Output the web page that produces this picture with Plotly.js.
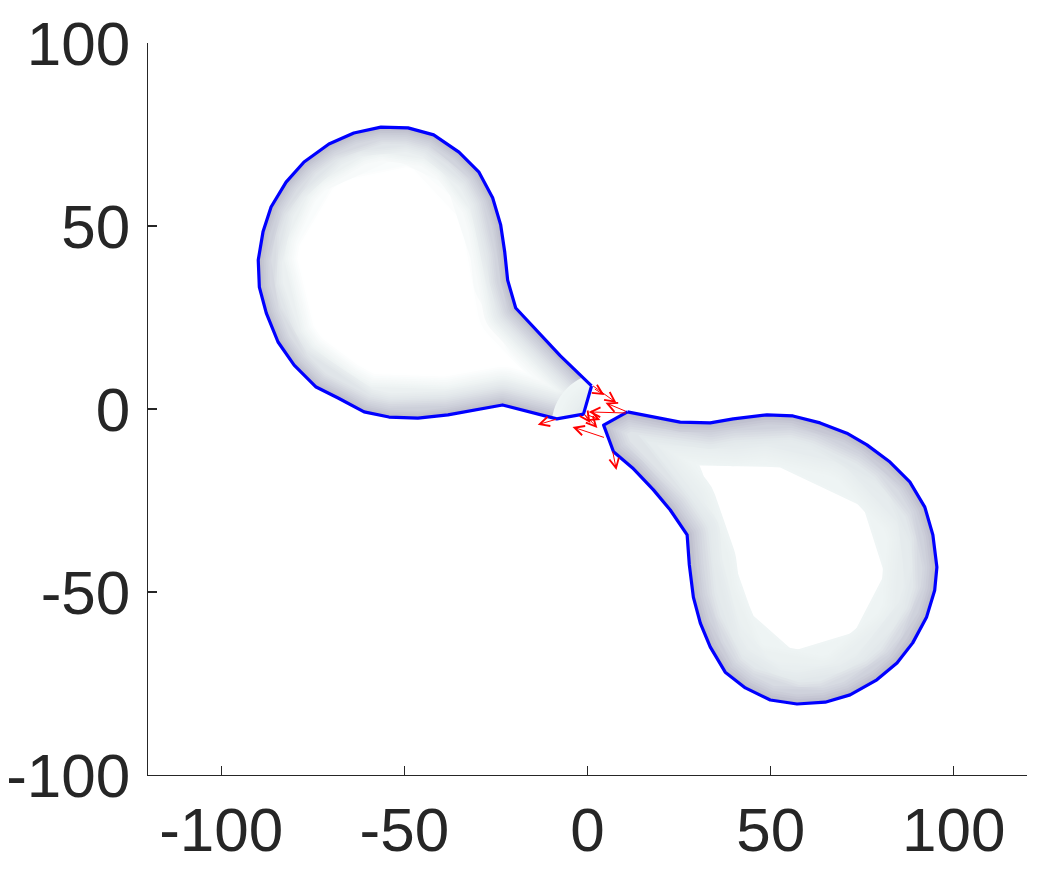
<!DOCTYPE html>
<html>
<head>
<meta charset="utf-8">
<script src="https://cdn.plot.ly/plotly-3.0.1.min.js"></script>
<style>html,body{margin:0;padding:0;background:#fff;}#chart{width:1047px;height:874px;}</style>
</head>
<body>
<div id="chart"></div>
<script>
// Axis settings
const xRange = [-120, 120];
const yRange = [-100, 100];
const xTicks = [-100, -50, 0, 50, 100];
const yTicks = [-100, -50, 0, 50, 100];

// Left blob boundary (closed polygon)
const leftX = [1.1, -1.1, -8.4, -23.2, -38.1, -46.3, -54.2, -61.0, -68.1, -74.1, -80.1, -84.5, -87.7, -89.6, -89.9, -88.6, -86.4, -82.3, -77.4, -70.6, -63.8, -56.4, -49.0, -42.0, -35.1, -29.7, -25.9, -23.7, -22.6, -21.8, -19.6, -13.6, -7.4];
const leftY = [6.3, -1.4, -2.7, 1.1, -1.6, -2.5, -2.2, -0.8, 3.0, 6.0, 12.0, 18.3, 26.2, 33.3, 40.7, 48.4, 55.2, 62.0, 67.5, 72.4, 75.4, 77.0, 76.8, 74.9, 70.2, 64.8, 57.7, 50.3, 42.9, 35.2, 27.6, 21.3, 14.5];

// Right blob boundary (closed polygon)
const rightX = [10.9, 25.3, 33.5, 39.8, 49.0, 56.1, 63.5, 70.8, 76.3, 82.6, 88.0, 92.1, 94.3, 95.4, 94.8, 92.6, 88.8, 84.5, 79.0, 71.7, 64.9, 57.2, 49.9, 43.1, 37.6, 33.5, 30.8, 28.9, 27.8, 27.2, 22.6, 18.0, 12.3, 7.1, 4.4];
const rightY = [-0.8, -3.6, -3.8, -2.7, -1.6, -1.9, -3.8, -6.6, -9.8, -14.5, -19.9, -26.8, -34.4, -43.2, -49.5, -56.8, -63.9, -69.4, -74.0, -78.1, -80.1, -80.6, -79.5, -76.2, -71.9, -65.0, -58.5, -51.4, -42.6, -34.4, -27.6, -22.1, -16.1, -11.7, -4.4];

// Quiver arrows: tail position and vector
const quiverX = [1.1, 1.6, 10.9, 10.9, -8.2, 4.9, -1.1, -1.1, -0.5, 6.8];
const quiverY = [6.6, 5.7, -0.8, -1.1, -2.7, -7.9, -1.1, -1.1, -1.4, -11.2];
const quiverU = [6.8, 3.0, -6.0, -10.6, -5.4, -9.0, 3.8, 1.9, 4.0, 1.1];
const quiverV = [-4.9, -1.9, 2.5, 0.3, -1.6, 3.0, -4.1, -2.7, -1.6, -5.5];

function closeRing(a) { return a.concat([a[0]]); }

function mix(stops, s) {
  for (let i = 0; i < stops.length - 1; i++) {
    const a = stops[i], b = stops[i + 1];
    if (s >= a[0] && s <= b[0]) {
      const f = (s - a[0]) / (b[0] - a[0]);
      const c = [0, 1, 2].map(j => Math.round(a[1][j] + f * (b[1][j] - a[1][j])));
      return 'rgb(' + c.join(',') + ')';
    }
  }
  const l = stops[stops.length - 1][1];
  return 'rgb(' + l.join(',') + ')';
}

const leftProfile = [[0, [182, 182, 198]], [0.2, [203, 205, 216]], [0.45, [224, 229, 233]], [0.7, [239, 244, 244]], [1, [254, 255, 255]]];
const rightProfile = [[0, [182, 182, 198]], [0.2, [205, 207, 218]], [0.45, [226, 232, 235]], [0.75, [235, 241, 241]], [1, [239, 245, 245]]];

const traces = [];
function shade(xs, ys, bandPx, profile) {
  const N = 22;
  for (let k = 0; k < N; k++) {
    const s = 1 - k / N;
    traces.push({
      x: closeRing(xs), y: closeRing(ys), type: 'scatter', mode: 'lines',
      line: {color: mix(profile, s), width: 2 * bandPx * s},
      hoverinfo: 'skip', showlegend: false
    });
  }
}
shade(leftX, leftY, 40, leftProfile);
shade(rightX, rightY, 52, rightProfile);

// White mask outside the blobs (plot rectangle with the blobs as holes)
const maskX = [xRange[0], xRange[1], xRange[1], xRange[0], xRange[0], null].concat(closeRing(leftX), [null], closeRing(rightX));
const maskY = [yRange[0], yRange[0], yRange[1], yRange[1], yRange[0], null].concat(closeRing(leftY), [null], closeRing(rightY));
traces.push({x: maskX, y: maskY, type: 'scatter', mode: 'none', fill: 'toself', fillcolor: '#ffffff', hoverinfo: 'skip', showlegend: false});

// Blue boundaries
traces.push({x: closeRing(leftX), y: closeRing(leftY), type: 'scatter', mode: 'lines', line: {color: '#0000ff', width: 3.2}, hoverinfo: 'skip', showlegend: false});
traces.push({x: closeRing(rightX), y: closeRing(rightY), type: 'scatter', mode: 'lines', line: {color: '#0000ff', width: 3.2}, hoverinfo: 'skip', showlegend: false});

const annotations = quiverX.map((x0, i) => ({
  x: x0 + quiverU[i], y: quiverY[i] + quiverV[i], ax: x0, ay: quiverY[i],
  xref: 'x', yref: 'y', axref: 'x', ayref: 'y', text: '', showarrow: true,
  arrowhead: 5, arrowsize: 1.9, arrowwidth: 1, arrowcolor: '#ff0000', standoff: 0, startstandoff: 0
}));

const axisCommon = {
  showgrid: false, zeroline: false, showline: true, linecolor: '#262626', linewidth: 1.3,
  ticks: 'inside', ticklen: 9, tickwidth: 1.3, tickcolor: '#262626', mirror: false,
  tickfont: {family: 'Liberation Sans, Arial, sans-serif', size: 62, color: '#262626'}
};

const layout = {
  width: 1047, height: 874,
  margin: {l: 148, r: 20, t: 43, b: 99, pad: 0},
  paper_bgcolor: '#ffffff', plot_bgcolor: '#ffffff',
  showlegend: false,
  xaxis: Object.assign({}, axisCommon, {range: xRange, tickmode: 'array', tickvals: xTicks, ticktext: xTicks.map(String), ticklabelstandoff: 0}),
  yaxis: Object.assign({}, axisCommon, {range: yRange, tickmode: 'array', tickvals: yTicks, ticktext: yTicks.map(String), ticklabelstandoff: 4}),
  annotations: annotations
};

Plotly.newPlot('chart', traces, layout, {staticPlot: true, displayModeBar: false}).then(() => {
  document.querySelectorAll('.scatterlayer .js-line').forEach(p => { p.style.strokeLinejoin = 'round'; });
});
</script>
</body>
</html>
